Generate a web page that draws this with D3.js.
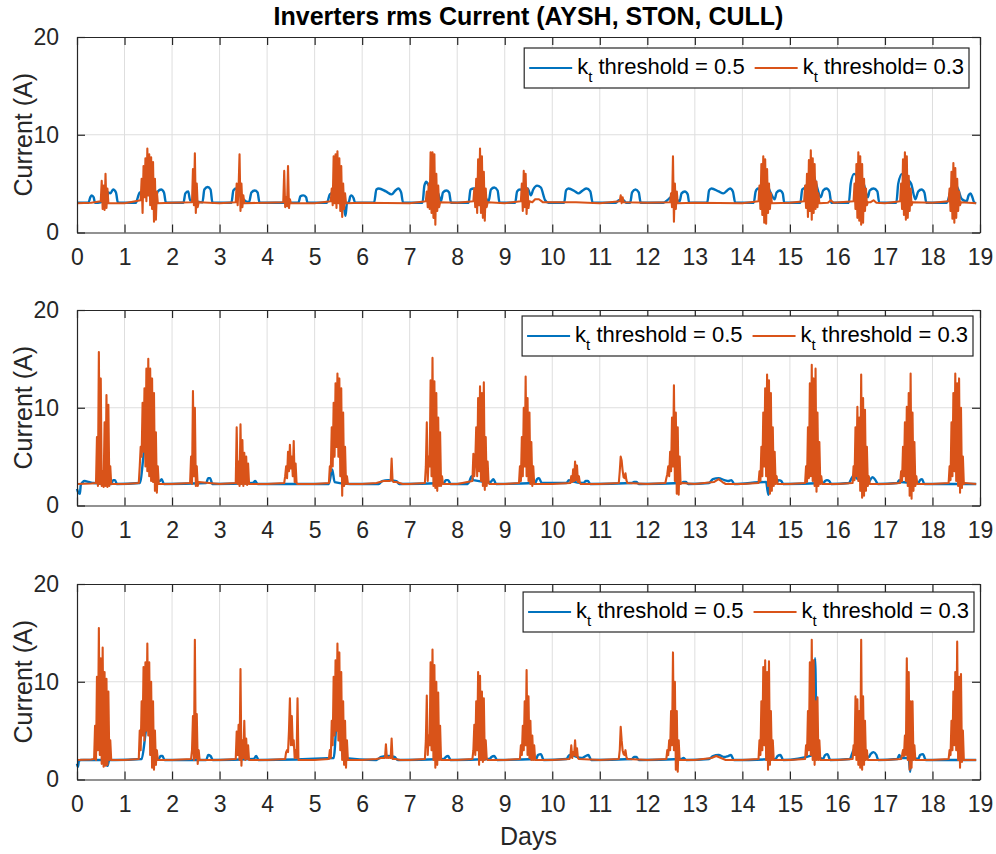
<!DOCTYPE html>
<html>
<head>
<meta charset="utf-8">
<script src="https://cdn.jsdelivr.net/npm/d3@7"></script>
<style>
  body { margin: 0; background: #fff; }
  text { font-family: "Liberation Sans", Arial, Helvetica, sans-serif; }
</style>
</head>
<body>
<svg id="chart"></svg>
<script>
//// Data
const xTicks = [0, 1, 2, 3, 4, 5, 6, 7, 8, 9, 10, 11, 12, 13, 14, 15, 16, 17, 18, 19];
const yTicks = [0, 10, 20];
const seriesColors = ['#0072BD', '#D95319'];
const legendTop = ['threshold = 0.5', 'threshold= 0.3'];
const legendOther = ['threshold = 0.5', 'threshold = 0.3'];

// burst records: [start day, value, value, ...] sampled every burstStep days
const burstStep = 0.02;

// AYSH
const ayshBlue = [
  [0, 3.05], [0.24, 3.05], [0.28, 3.6], [0.31, 3.8], [0.35, 3.6], [0.38, 3.05],
  [0.5, 3.1], [0.58, 3.3], [0.62, 3.2], [0.66, 4.1], [0.70, 4.0], [0.76, 4.4], [0.82, 4.1], [0.86, 3.05],
  [1.24, 3.05], [1.28, 3.6], [1.32, 4.1], [1.40, 4.0], [1.50, 4.2], [1.58, 4.0], [1.64, 3.4], [1.70, 4.2], [1.77, 4.4], [1.83, 4.1], [1.87, 3.05],
  [2.24, 3.05], [2.28, 4.0], [2.34, 4.2], [2.38, 3.3], [2.5, 3.2], [2.64, 3.1], [2.68, 4.4], [2.75, 4.65], [2.81, 4.4], [2.85, 3.05],
  [3.25, 3.05], [3.29, 4.3], [3.35, 4.5], [3.40, 4.3], [3.5, 3.4], [3.62, 3.1], [3.67, 4.1], [3.74, 4.3], [3.80, 4.1], [3.84, 3.05],
  [4.66, 3.05], [4.70, 3.7], [4.76, 3.8], [4.82, 3.6], [4.85, 3.05],
  [5.26, 3.05], [5.32, 3.9], [5.45, 4.2], [5.58, 3.8], [5.63, 2.2], [5.65, 1.7], [5.68, 3.0], [5.72, 3.1], [5.75, 3.7], [5.78, 3.8], [5.82, 3.5], [5.85, 3.05],
  [6.25, 3.05], [6.30, 4.4], [6.35, 4.5], [6.50, 4.2], [6.62, 3.9], [6.70, 4.3], [6.76, 4.5], [6.82, 4.1], [6.86, 3.05],
  [7.27, 3.05], [7.31, 4.8], [7.35, 5.2], [7.40, 4.8], [7.5, 4.5], [7.6, 4.0], [7.66, 3.2], [7.70, 4.1], [7.77, 4.3], [7.83, 4.1], [7.87, 3.05],
  [8.24, 3.05], [8.28, 4.4], [8.35, 4.5], [8.44, 4.4], [8.55, 4.0], [8.66, 3.2], [8.71, 4.4], [8.78, 4.6], [8.85, 4.3], [8.89, 3.05],
  [9.22, 3.05], [9.26, 4.2], [9.32, 4.4], [9.40, 4.3], [9.48, 4.5], [9.55, 3.8], [9.60, 4.4], [9.68, 4.8], [9.76, 4.6], [9.85, 3.3], [9.92, 3.05],
  [10.25, 3.05], [10.29, 4.3], [10.34, 4.5], [10.48, 4.2], [10.55, 4.0], [10.64, 4.3], [10.72, 4.5], [10.80, 4.2], [10.85, 3.05],
  [11.34, 3.05], [11.40, 3.3], [11.50, 3.3], [11.55, 3.05],
  [11.64, 3.05], [11.68, 4.1], [11.75, 4.4], [11.82, 4.1], [11.86, 3.05],
  [12.34, 3.05], [12.42, 3.3], [12.5, 3.6], [12.6, 3.4], [12.68, 3.2], [12.72, 4.0], [12.79, 4.2], [12.85, 3.9], [12.88, 3.05],
  [13.26, 3.05], [13.30, 4.3], [13.35, 4.5], [13.50, 4.2], [13.60, 4.0], [13.68, 4.3], [13.74, 4.5], [13.80, 4.2], [13.85, 3.05],
  [14.24, 3.05], [14.28, 4.2], [14.33, 4.5], [14.40, 4.3], [14.5, 5.0], [14.6, 4.0], [14.68, 3.4], [14.72, 4.1], [14.79, 4.3], [14.85, 4.0], [14.88, 3.05],
  [15.22, 3.05], [15.26, 4.4], [15.32, 4.6], [15.48, 6.0], [15.55, 5.0], [15.65, 3.6], [15.70, 4.3], [15.77, 4.5], [15.83, 4.2], [15.87, 3.05],
  [16.24, 3.05], [16.28, 5.0], [16.35, 6.0], [16.45, 5.5], [16.55, 5.0], [16.64, 3.6], [16.68, 4.3], [16.76, 4.5], [16.84, 4.2], [16.88, 3.05],
  [17.24, 3.05], [17.28, 5.0], [17.36, 6.0], [17.45, 5.5], [17.55, 5.0], [17.64, 3.4], [17.70, 4.2], [17.77, 4.4], [17.83, 4.1], [17.87, 3.05],
  [18.3, 3.05], [18.4, 4.5], [18.5, 4.8], [18.62, 3.4], [18.72, 3.2], [18.76, 3.8], [18.80, 4.0], [18.84, 3.6], [18.88, 3.05], [18.92, 3.0]
];
const ayshOrangeBase = [
  [0, 3.0], [0.3, 3.05], [1.0, 3.0], [2.0, 3.05], [3.0, 3.0], [4.0, 3.05], [5.0, 3.0], [6.0, 3.05], [7.0, 3.0],
  [8.0, 3.05], [9.0, 3.0], [9.58, 3.1], [9.64, 3.4], [9.72, 3.4], [9.8, 3.1], [10.5, 3.1], [11.0, 3.0], [12.0, 3.05],
  [13.0, 3.05], [14.0, 3.0], [15.0, 3.05], [15.8, 3.05], [15.86, 3.3], [15.92, 3.05], [16.7, 3.1], [16.76, 3.3],
  [16.82, 3.05], [17.0, 3.0], [18.0, 3.05], [18.92, 3.0]
];
const ayshOrangeBursts = [
  [0.50, 3.2, 5.3, 2.4, 4.8, 2.3, 6.0, 2.5, 4.5, 3.0],
  [1.34, 3.3, 5.5, 2.0, 6.8, 3.6, 7.6, 3.2, 8.6, 3.8, 8.0, 2.8, 7.7, 2.4, 7.2, 1.1, 5.5, 1.3, 4.2, 3.0],
  [2.42, 3.1, 6.5, 2.8, 8.1, 2.0, 5.0, 2.6, 3.1],
  [3.34, 3.1, 5.0, 2.8, 4.6, 8.0, 2.2, 5.0, 2.6, 3.8, 3.0],
  [4.34, 3.1, 6.3, 2.6, 3.6, 2.7, 6.8, 2.5, 3.4, 3.0],
  [5.34, 3.2, 4.5, 2.8, 7.8, 3.0, 8.0, 2.5, 8.3, 3.0, 7.6, 2.2, 6.8, 1.6, 5.0, 2.4, 4.0, 3.0],
  [7.34, 3.2, 4.2, 2.6, 5.0, 2.4, 8.2, 2.0, 8.2, 1.5, 8.0, 0.8, 6.0, 2.2, 4.8, 2.6, 3.1],
  [8.34, 3.2, 4.5, 2.6, 5.5, 2.0, 7.5, 2.8, 8.6, 2.0, 7.8, 1.5, 6.2, 1.2, 4.5, 2.6, 3.1],
  [9.34, 3.2, 5.0, 2.2, 6.3, 2.6, 6.0, 1.9, 4.5, 2.5, 3.2],
  [11.42, 3.2, 3.8, 3.0, 3.6, 3.1],
  [12.48, 3.1, 4.0, 2.6, 7.8, 1.1, 5.0, 2.4, 4.2, 3.0],
  [14.34, 3.2, 4.8, 2.4, 7.0, 1.8, 7.8, 1.0, 7.5, 0.9, 6.5, 2.0, 5.0, 2.4, 4.0, 3.0],
  [15.30, 3.2, 4.8, 2.5, 6.0, 1.6, 7.4, 2.2, 8.4, 1.3, 7.6, 2.0, 7.0, 2.4, 5.2, 2.6, 4.0, 3.0],
  [16.34, 3.2, 5.0, 2.4, 7.0, 1.5, 8.2, 1.2, 7.8, 0.8, 7.0, 1.0, 5.5, 2.2, 4.5, 2.8, 3.1],
  [17.32, 3.2, 5.0, 2.4, 7.5, 1.8, 8.2, 1.3, 7.8, 1.5, 5.8, 2.2, 4.5, 2.8, 3.1],
  [18.34, 3.2, 4.5, 2.2, 6.2, 1.4, 7.1, 1.0, 6.6, 1.5, 5.5, 2.2, 4.2, 2.8, 3.1]
];

// STON
const stonBlue = [
  [0, 1.7], [0.03, 1.3], [0.06, 1.2], [0.08, 2.1], [0.12, 2.4], [0.16, 2.5], [0.25, 2.4], [0.35, 2.3],
  [0.72, 2.2], [0.76, 2.6], [0.80, 2.6], [0.84, 2.2],
  [1.32, 2.3], [1.42, 6.0], [1.5, 8.5], [1.58, 6.0], [1.68, 2.5], [1.74, 2.5], [1.78, 2.7], [1.83, 2.2],
  [2.72, 2.3], [2.76, 2.8], [2.80, 2.8], [2.85, 2.2],
  [3.7, 2.3], [3.75, 2.5], [3.8, 2.2],
  [5.3, 2.2], [5.37, 3.7], [5.42, 2.4], [5.75, 2.2],
  [6.35, 2.2], [6.42, 2.5], [6.55, 2.6], [6.72, 2.5], [6.78, 2.2],
  [7.72, 2.3], [7.76, 2.6], [7.81, 2.6], [7.86, 2.2],
  [8.22, 2.2], [8.26, 2.5], [8.3, 3.0], [8.34, 2.6], [8.7, 2.4], [8.76, 2.7], [8.82, 2.2],
  [9.64, 2.3], [9.68, 2.7], [9.72, 2.8], [9.78, 2.3],
  [10.3, 2.3], [10.35, 2.6], [10.4, 2.5], [10.66, 2.3], [10.7, 2.5], [10.75, 2.5], [10.8, 2.2],
  [11.68, 2.3], [11.72, 2.4], [11.77, 2.4], [11.82, 2.2],
  [12.72, 2.3], [12.76, 2.4], [12.81, 2.4], [12.86, 2.2],
  [13.3, 2.3], [13.38, 2.7], [13.5, 2.8], [13.62, 2.6], [13.7, 2.5], [13.77, 2.6], [13.83, 2.2],
  [14.5, 2.4], [14.53, 1.5], [14.55, 1.1], [14.58, 2.3], [14.72, 2.3], [14.76, 2.6], [14.82, 2.5], [14.86, 2.2],
  [15.7, 2.3], [15.74, 2.5], [15.78, 2.6], [15.83, 2.5], [15.87, 2.2],
  [16.24, 2.3], [16.3, 2.8], [16.36, 3.2], [16.4, 2.8], [16.66, 2.4], [16.7, 2.7], [16.74, 2.9], [16.8, 2.6], [16.85, 2.2],
  [17.26, 2.3], [17.3, 2.6], [17.34, 2.4], [17.7, 2.3], [17.74, 2.6], [17.78, 2.7], [17.83, 2.2],
  [18.92, 2.2]
];
const stonOrangeBase = [
  [0, 2.2], [0.3, 2.25], [1.0, 2.2], [2.0, 2.2], [3.0, 2.2], [4.0, 2.2], [5.0, 2.2], [6.0, 2.2], [6.3, 2.3],
  [6.45, 2.5], [6.72, 2.4], [6.85, 2.2], [7.0, 2.2], [8.0, 2.2], [9.0, 2.2], [10.0, 2.2], [11.0, 2.2], [12.0, 2.2],
  [13.0, 2.2], [13.4, 2.4], [13.5, 2.7], [13.58, 2.4], [13.65, 2.2], [14.0, 2.2], [15.0, 2.2], [16.0, 2.2],
  [17.0, 2.2], [18.0, 2.2], [18.92, 2.2]
];
const stonOrangeBursts = [
  [0.40, 2.3, 7.0, 2.0, 15.7, 2.2, 13.0, 2.0, 3.5, 1.9, 8.5, 2.0, 11.3, 1.9, 10.3, 2.0, 4.0, 2.2],
  [1.30, 2.3, 4.0, 6.0, 5.0, 10.5, 5.5, 12.0, 4.0, 14.0, 3.5, 15.0, 3.0, 14.0, 2.5, 13.0, 2.4, 11.5, 1.5, 7.5, 1.3, 4.0, 2.2],
  [2.38, 2.3, 5.0, 2.2, 11.7, 3.0, 10.0, 2.0, 4.0, 2.0, 2.4],
  [3.34, 2.3, 8.0, 2.2, 4.5, 2.0, 8.3, 2.2, 6.7, 2.0, 5.4, 2.2, 5.0, 2.1, 4.3, 2.2, 2.2],
  [4.36, 2.3, 3.0, 4.0, 2.8, 5.5, 3.5, 6.2, 3.8, 5.0, 3.0, 6.6, 2.4, 4.3, 2.3, 2.2],
  [5.30, 2.3, 4.0, 3.5, 8.0, 4.0, 10.5, 5.0, 12.5, 6.0, 13.5, 5.0, 13.0, 3.0, 12.0, 1.0, 9.5, 2.0, 6.0, 2.2, 3.0, 2.2],
  [6.58, 2.5, 2.6, 4.8, 2.5, 2.4],
  [7.32, 2.3, 4.0, 8.5, 2.5, 5.0, 4.0, 12.8, 3.0, 15.1, 2.0, 12.7, 1.8, 11.5, 1.5, 9.0, 2.0, 7.5, 2.0, 3.0, 2.2],
  [8.32, 2.5, 5.3, 3.0, 4.5, 8.0, 3.0, 11.0, 3.5, 12.2, 2.5, 11.5, 2.0, 12.6, 1.6, 7.0, 2.0, 4.5, 2.3, 2.2],
  [9.30, 2.3, 4.0, 2.5, 7.0, 3.0, 10.0, 4.0, 13.2, 3.0, 11.0, 2.5, 9.5, 2.2, 6.5, 2.0, 4.0, 2.2],
  [10.38, 2.3, 3.0, 2.4, 3.7, 2.5, 4.5, 2.6, 4.1, 2.4, 3.0, 2.3, 2.2],
  [11.40, 2.3, 3.5, 5.0, 4.6, 3.6, 2.9, 2.8, 3.3, 2.6, 2.3],
  [12.38, 2.3, 2.8, 3.2, 4.0, 3.0, 5.5, 3.5, 9.0, 4.0, 12.3, 2.5, 9.5, 1.2, 8.0, 1.1, 5.0, 2.2, 2.3],
  [14.34, 2.3, 3.5, 2.5, 6.0, 3.0, 9.5, 4.0, 12.0, 3.0, 13.4, 2.0, 12.8, 1.2, 11.5, 1.5, 8.0, 2.0, 5.5, 2.2, 3.0, 2.2],
  [15.32, 2.3, 4.0, 2.4, 8.0, 2.8, 12.5, 3.0, 14.4, 2.5, 13.0, 2.0, 14.0, 1.4, 9.5, 2.0, 6.5, 2.2, 3.0, 2.2],
  [16.32, 2.3, 4.0, 2.6, 8.0, 3.0, 10.1, 2.5, 9.0, 1.5, 13.4, 0.8, 11.0, 1.0, 9.8, 1.5, 6.0, 2.0, 3.0, 2.2],
  [17.32, 2.3, 3.5, 2.5, 6.0, 3.0, 8.5, 2.5, 10.1, 2.0, 11.5, 1.0, 13.5, 0.7, 9.5, 1.5, 6.5, 2.0, 3.0, 2.2],
  [18.34, 2.3, 4.0, 2.6, 8.5, 3.0, 11.5, 3.5, 13.5, 2.5, 12.5, 2.0, 13.0, 1.3, 10.0, 1.8, 5.0, 2.2, 2.3]
];

// CULL
const cullBlue = [
  [0, 1.6], [0.02, 1.3], [0.04, 1.9], [0.08, 2.0], [0.3, 2.0],
  [0.6, 2.0], [0.64, 1.4], [0.68, 2.0], [0.8, 2.0],
  [1.36, 2.1], [1.45, 5.0], [1.5, 6.5], [1.56, 4.0], [1.66, 2.0], [1.72, 2.1], [1.76, 2.4], [1.8, 2.4], [1.84, 2.0],
  [2.72, 2.0], [2.76, 2.5], [2.81, 2.4], [2.86, 2.0],
  [3.72, 2.1], [3.77, 2.4], [3.82, 2.0],
  [5.4, 2.2], [5.5, 8.5], [5.6, 2.2],
  [6.3, 2.0], [6.4, 2.3], [6.55, 2.4], [6.68, 2.3], [6.75, 2.0],
  [7.72, 2.1], [7.76, 2.3], [7.81, 2.4], [7.86, 2.0],
  [8.68, 2.1], [8.72, 2.3], [8.78, 2.4], [8.84, 2.0],
  [9.66, 2.1], [9.7, 2.5], [9.76, 2.6], [9.82, 2.0],
  [10.3, 2.1], [10.34, 2.4], [10.38, 2.5], [10.62, 2.2], [10.7, 2.4], [10.76, 2.5], [10.82, 2.0],
  [11.68, 2.1], [11.72, 2.3], [11.77, 2.3], [11.82, 2.0],
  [12.72, 2.1], [12.76, 2.2], [12.82, 2.0],
  [13.3, 2.1], [13.38, 2.4], [13.5, 2.5], [13.62, 2.3], [13.7, 2.4], [13.76, 2.5], [13.82, 2.0],
  [14.7, 2.1], [14.74, 2.4], [14.8, 2.5], [14.86, 2.0],
  [15.48, 2.5], [15.53, 12.4], [15.57, 2.5], [15.7, 2.1], [15.74, 2.5], [15.79, 2.6], [15.85, 2.0],
  [16.26, 2.1], [16.32, 2.8], [16.36, 3.2], [16.4, 2.6], [16.66, 2.3], [16.7, 2.6], [16.76, 2.8], [16.82, 2.5], [16.86, 2.0],
  [17.26, 2.1], [17.3, 2.5], [17.34, 2.2], [17.5, 2.2], [17.53, 0.8], [17.56, 2.2], [17.7, 2.1], [17.74, 2.5], [17.8, 2.6], [17.86, 2.0],
  [18.92, 2.0]
];
const cullOrangeBase = [
  [0, 2.0], [0.3, 2.05], [1.0, 2.0], [2.0, 2.0], [3.0, 2.0], [4.0, 2.0], [5.0, 2.0], [6.0, 2.0], [6.3, 2.1],
  [6.4, 2.2], [6.7, 2.1], [6.8, 2.0], [7.0, 2.0], [8.0, 2.0], [9.0, 2.0], [10.0, 2.0], [11.0, 2.0], [12.0, 2.0],
  [13.0, 2.0], [13.35, 2.2], [13.45, 2.4], [13.55, 2.2], [13.65, 2.0], [14.0, 2.0], [15.0, 2.0], [16.0, 2.0],
  [17.0, 2.0], [18.0, 2.0], [18.92, 2.0]
];
const cullOrangeBursts = [
  [0.36, 2.1, 5.5, 2.0, 10.5, 3.0, 15.5, 2.5, 12.4, 1.6, 13.5, 1.3, 11.0, 1.4, 10.3, 1.5, 9.0, 2.0, 4.0, 2.0],
  [1.30, 2.1, 5.0, 3.0, 8.0, 4.5, 11.5, 4.0, 12.0, 5.0, 13.9, 4.5, 12.0, 2.5, 10.0, 1.2, 8.0, 1.0, 5.0, 1.5, 3.0, 2.0],
  [2.40, 2.1, 3.0, 6.5, 2.0, 14.3, 2.2, 6.7, 1.6, 3.0, 2.0],
  [3.34, 2.1, 4.9, 2.5, 5.6, 2.0, 11.3, 1.4, 4.0, 2.2, 6.0, 2.0, 4.2, 2.1, 3.5, 2.0],
  [4.38, 2.1, 2.8, 3.0, 2.8, 5.0, 8.3, 3.5, 6.5, 3.5, 4.0, 2.2, 3.0, 2.2, 8.3, 2.0, 2.0],
  [5.30, 2.1, 3.0, 2.2, 6.0, 3.5, 10.5, 4.5, 12.2, 5.0, 13.9, 4.0, 13.0, 3.0, 11.0, 2.0, 8.0, 1.5, 6.0, 1.2, 4.0, 2.0],
  [6.48, 2.2, 3.6, 2.2, 2.3, 2.2, 2.3, 2.2, 4.2, 2.1],
  [7.32, 2.1, 4.0, 8.6, 2.5, 4.5, 3.5, 12.0, 3.0, 13.3, 2.0, 11.7, 1.2, 10.0, 1.5, 8.9, 2.0, 5.5, 2.0, 2.0],
  [8.32, 2.1, 3.0, 5.6, 2.5, 8.0, 3.0, 11.0, 1.5, 10.6, 2.0, 9.0, 1.8, 8.3, 2.0, 4.0, 2.2, 2.0],
  [9.32, 2.1, 3.5, 2.5, 5.5, 3.0, 8.0, 3.5, 11.2, 2.5, 8.5, 2.2, 6.0, 2.0, 4.5, 2.0, 3.5, 2.0],
  [10.36, 2.1, 2.3, 3.5, 2.2, 2.8, 2.5, 4.0, 2.4, 3.2, 2.2, 2.1],
  [11.40, 2.1, 3.0, 5.4, 4.0, 3.0, 2.6, 2.5, 3.0, 2.3, 2.1],
  [12.40, 2.1, 3.0, 2.5, 4.0, 3.0, 7.0, 3.5, 13.0, 3.0, 10.0, 1.0, 7.0, 0.8, 4.0, 2.0, 2.0],
  [14.34, 2.1, 4.0, 2.5, 8.0, 3.0, 11.5, 3.5, 12.2, 2.0, 11.0, 1.0, 12.1, 1.5, 7.0, 2.0, 4.0, 2.0],
  [15.32, 2.1, 3.5, 2.5, 7.0, 3.0, 12.0, 2.5, 14.3, 2.0, 12.2, 1.5, 8.0, 2.0, 8.4, 2.0, 4.0, 2.0],
  [16.32, 2.1, 3.5, 2.5, 8.5, 2.0, 8.2, 1.5, 7.0, 1.2, 14.3, 1.0, 8.5, 1.5, 6.0, 2.0, 3.0, 2.0],
  [17.34, 2.1, 2.5, 3.0, 2.4, 4.5, 2.5, 12.4, 2.0, 11.0, 1.0, 8.0, 1.2, 8.0, 2.0, 3.5, 2.0],
  [18.34, 2.1, 3.0, 2.5, 6.0, 3.0, 9.0, 3.5, 11.0, 3.0, 14.1, 2.0, 10.5, 1.2, 10.8, 1.8, 5.0, 2.0, 2.0]
];

//// Layout
const width = 996;
const height = 854;
const left = 77;
const right = 980;
const panelTops = [37, 310, 584];
const panelHeight = 195.5;
const legendBoxes = [[969, 48], [973, 316], [974, 592]]; // right edge, top

function mergeSeries(base, bursts) {
  const pts = [];
  const spans = bursts.map(b => [b[0], b[0] + (b.length - 2) * burstStep]);
  bursts.forEach(b => {
    b.slice(1).forEach((v, i) => pts.push([b[0] + i * burstStep, v]));
  });
  base.forEach(p => {
    if (!spans.some(s => p[0] >= s[0] - 1e-9 && p[0] <= s[1] + 1e-9)) pts.push(p);
  });
  return pts.sort((a, b) => a[0] - b[0]);
}

const panels = [
  { blue: ayshBlue, orange: mergeSeries(ayshOrangeBase, ayshOrangeBursts), legend: legendTop },
  { blue: stonBlue, orange: mergeSeries(stonOrangeBase, stonOrangeBursts), legend: legendOther },
  { blue: cullBlue, orange: mergeSeries(cullOrangeBase, cullOrangeBursts), legend: legendOther }
];

const svg = d3.select('#chart')
  .attr('width', width)
  .attr('height', height);

svg.append('rect').attr('width', width).attr('height', height).attr('fill', '#fff');

const xScale = d3.scaleLinear().domain([0, 19]).range([left, right]);

panels.forEach((p, k) => {
  const top = panelTops[k];
  const bottom = top + panelHeight;
  const yScale = d3.scaleLinear().domain([0, 20]).range([bottom, top]);
  const g = svg.append('g');

  // grid
  g.selectAll('.vgrid')
    .data(xTicks.slice(1, -1))
    .enter()
    .append('line')
    .attr('x1', d => xScale(d)).attr('x2', d => xScale(d))
    .attr('y1', top).attr('y2', bottom)
    .attr('stroke', '#dedede').attr('stroke-width', 1);
  g.selectAll('.hgrid')
    .data(yTicks.slice(1, -1))
    .enter()
    .append('line')
    .attr('x1', left).attr('x2', right)
    .attr('y1', d => yScale(d)).attr('y2', d => yScale(d))
    .attr('stroke', '#dedede').attr('stroke-width', 1);

  // series
  const blueLine = d3.line()
    .x(d => xScale(d[0]))
    .y(d => yScale(d[1]))
    .curve(d3.curveMonotoneX);
  const orangeLine = d3.line()
    .x(d => xScale(d[0]))
    .y(d => yScale(d[1]));

  g.append('path')
    .attr('d', blueLine(p.blue))
    .attr('fill', 'none')
    .attr('stroke', seriesColors[0])
    .attr('stroke-width', 2.4)
    .attr('stroke-linejoin', 'round');
  g.append('path')
    .attr('d', orangeLine(p.orange))
    .attr('fill', 'none')
    .attr('stroke', seriesColors[1])
    .attr('stroke-width', 2.1)
    .attr('stroke-linejoin', 'round');

  // axes (box with inward ticks)
  const xAxis = d3.axisBottom(xScale).tickValues(xTicks).tickSizeInner(-8).tickSizeOuter(0).tickPadding(16);
  const xAxisTop = d3.axisTop(xScale).tickValues(xTicks).tickSizeInner(-8).tickSizeOuter(0).tickFormat('');
  const yAxis = d3.axisLeft(yScale).tickValues(yTicks).tickSizeInner(-8).tickSizeOuter(0).tickPadding(18);
  const yAxisRight = d3.axisRight(yScale).tickValues(yTicks).tickSizeInner(-8).tickSizeOuter(0).tickFormat('');

  const axes = [
    g.append('g').attr('transform', `translate(0, ${bottom})`).call(xAxis),
    g.append('g').attr('transform', `translate(0, ${top})`).call(xAxisTop),
    g.append('g').attr('transform', `translate(${left}, 0)`).call(yAxis),
    g.append('g').attr('transform', `translate(${right}, 0)`).call(yAxisRight)
  ];
  axes.forEach(a => {
    a.select('.domain').attr('stroke', '#262626').attr('stroke-width', 1.2);
    a.selectAll('.tick line').attr('stroke', '#262626').attr('stroke-width', 1.2);
    a.selectAll('.tick text')
      .attr('fill', '#262626')
      .style('font-family', '"Liberation Sans", Arial, sans-serif')
      .style('font-size', '23px');
  });

  // y label
  g.append('text')
    .attr('transform', `translate(32, ${(top + bottom) / 2}) rotate(-90)`)
    .attr('text-anchor', 'middle')
    .attr('fill', '#262626')
    .style('font-size', '25px')
    .text('Current (A)');

  // legend
  const [lgRight, lgTop] = legendBoxes[k];
  const lg = g.append('g');
  const box = lg.append('rect')
    .attr('height', 40)
    .attr('fill', '#fff')
    .attr('stroke', '#262626')
    .attr('stroke-width', 1.2);
  let x = 5;
  p.legend.forEach((lab, i) => {
    lg.append('line')
      .attr('x1', x).attr('x2', x + 43)
      .attr('y1', 20).attr('y2', 20)
      .attr('stroke', seriesColors[i])
      .attr('stroke-width', 2.2);
    x += 48;
    const t = lg.append('text')
      .attr('x', x).attr('y', 26)
      .attr('fill', '#000')
      .style('font-size', '22px');
    t.append('tspan').text('k');
    t.append('tspan').attr('dy', 8).style('font-size', '15px').text('t');
    t.append('tspan').attr('dy', -8).text(' ' + lab);
    x += t.node().getComputedTextLength() + 10;
  });
  const boxW = x - 10 + 5;
  box.attr('width', boxW);
  lg.attr('transform', `translate(${lgRight - boxW}, ${lgTop})`);
});

// title and x label
svg.append('text')
  .attr('x', (left + right) / 2)
  .attr('y', 25)
  .attr('text-anchor', 'middle')
  .attr('fill', '#000')
  .style('font-size', '25px')
  .style('font-weight', 'bold')
  .text('Inverters rms Current (AYSH, STON, CULL)');

svg.append('text')
  .attr('x', (left + right) / 2)
  .attr('y', 845)
  .attr('text-anchor', 'middle')
  .attr('fill', '#262626')
  .style('font-size', '25px')
  .text('Days');
</script>
</body>
</html>
